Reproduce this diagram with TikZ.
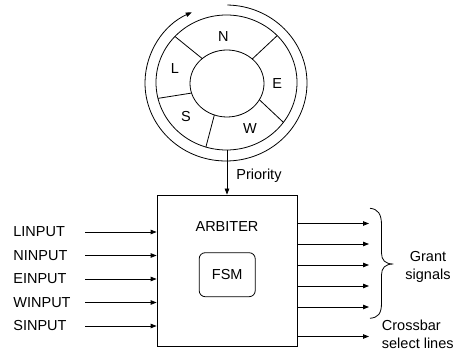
\documentclass[tikz,border=0pt]{standalone}
\usepackage{fontspec}
\setmainfont{Liberation Sans}
\usetikzlibrary{arrows.meta}
\begin{document}
\begin{tikzpicture}[x=1pt,y=1pt,line width=0.8pt,
  arr/.style={-{Triangle[length=6pt,width=4.5pt]}},
  lbl/.style={font=\fontsize{14.5}{17.5}\selectfont,inner sep=0pt},
  ringline/.style={line width=0.8pt},
  box/.style={draw,line width=0.8pt,inner sep=0pt}]
\useasboundingbox (0,0) rectangle (454,356);

% ---- priority ring ----
\draw[ringline] (226.5,273.5) ellipse [x radius=70.5,y radius=67.5];
\draw[ringline] (227,272.5) ellipse [x radius=37,y radius=33.5];
\foreach \o/\i in {137/132, 44/47, 193.6/196.6, -36.2/-29, 253/250}{
  \draw[ringline] ({226.5+70.5*cos(\o)},{273.5+67.5*sin(\o)}) -- ({227+37*cos(\i)},{272.5+33.5*sin(\i)});
}
\draw[ringline,arr] ([shift={(89:81 and 78)}]226,273) arc[start angle=89,end angle=-245,x radius=81,y radius=78];

\node[lbl] (sN) at (223.3,319.3) {N};
\node[lbl] (sL) at (175,287.7) {L};
\node[lbl] (sE) at (277.3,272.7) {E};
\node[lbl] (sS) at (186,239.3) {S};
\node[lbl] (sW) at (250,227.7) {W};

% ---- arbiter ----
\node[box,minimum width=140,minimum height=151] (arb) at (227,85.5) {};
\node[lbl] (arbt) at (227,129.3) {ARBITER};
\node[box,rounded corners=6pt,minimum width=56,minimum height=44,font=\fontsize{14.5}{17.5}\selectfont] (fsm) at (227.2,81.3) {FSM};

\coordinate (ringbot) at (227,206);
\draw[arr] (ringbot) -- (arb.north);
\node[lbl,anchor=west] (prio) at (236,180) {Priority};

% ---- inputs ----
\foreach \n/\t/\y in {iL/LINPUT/124, iN/NINPUT/100.5, iE/EINPUT/77, iW/WINPUT/53.5, iS/SINPUT/30}{
  \node[lbl,anchor=west] (\n) at (13,\y) {\t};
  \coordinate (\n s) at (85,\y);
  \draw[arr] (\n s) -- (\n s -| arb.west);
}

% ---- outputs ----
\foreach \n/\y in {g1/132.5, g2/112, g3/91, g4/70, g5/49, cb/19.5}{
  \coordinate (\n e) at (369,\y);
  \draw[arr] (\n e -| arb.east) -- (\n e);
}

% ---- brace ----
\draw (370,147.7) .. controls (378,147) and (381.5,142) .. (381.5,131)
  -- (381.5,103) .. controls (381.5,96) and (385,92) .. (393.3,92)
  .. controls (385,92) and (381.5,88) .. (381.5,81)
  -- (381.5,53) .. controls (381.5,42) and (378,38.5) .. (370,37.7);

\node[lbl,align=center] (grant) at (428,89) {Grant\\signals};
\node[lbl,align=left,anchor=west] (xbar) at (381.5,21.5) {Crossbar\\select lines};
\end{tikzpicture}
\end{document}
